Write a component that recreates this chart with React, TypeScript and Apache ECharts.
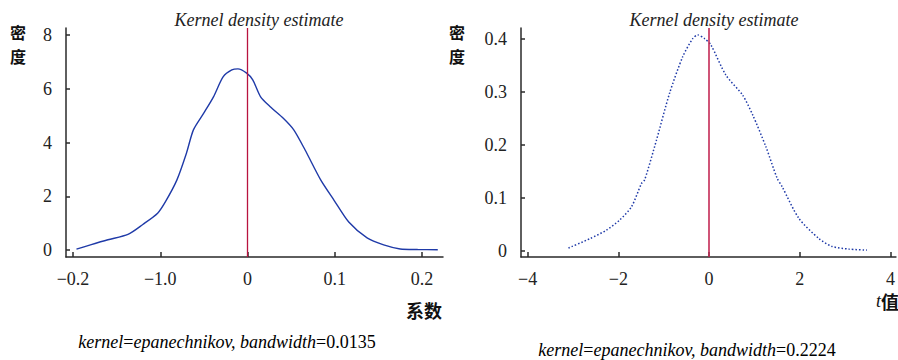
import React, { useEffect, useRef } from "react";
import * as echarts from "echarts";

// Left panel: coefficient density
const coefX = [-0.196, -0.18, -0.16, -0.137, -0.12, -0.103, -0.094, -0.081, -0.07, -0.062, -0.05, -0.039, -0.028, -0.018, -0.011, -0.001, 0.006, 0.015, 0.026, 0.041, 0.053, 0.066, 0.084, 0.099, 0.116, 0.137, 0.156, 0.175, 0.195, 0.218];
const coefY = [0.03, 0.19, 0.38, 0.58, 0.95, 1.37, 1.8, 2.6, 3.6, 4.47, 5.1, 5.7, 6.44, 6.7, 6.74, 6.58, 6.33, 5.7, 5.33, 4.9, 4.47, 3.72, 2.6, 1.86, 1.04, 0.45, 0.19, 0.04, 0.02, 0.01];
const coefTickValues = [-0.2, -0.1, 0, 0.1, 0.2];
const coefTickLabels = ["−0.2", "−1.0", "0", "0.1", "0.2"];
const coefYTicks = [0, 2, 4, 6, 8];

// Right panel: t-value density
const tX = [-3.1, -2.62, -2.26, -1.97, -1.71, -1.49, -1.42, -1.16, -0.87, -0.58, -0.36, -0.25, -0.1, 0.04, 0.37, 0.74, 0.96, 1.25, 1.5, 1.61, 1.98, 2.42, 2.71, 3.08, 3.48];
const tY = [0.005, 0.023, 0.039, 0.058, 0.083, 0.127, 0.134, 0.209, 0.298, 0.367, 0.401, 0.408, 0.401, 0.389, 0.332, 0.294, 0.257, 0.197, 0.137, 0.121, 0.061, 0.023, 0.008, 0.003, 0.001];
const tTickValues = [-4, -2, 0, 2, 4];
const tTickLabels = ["−4", "−2", "0", "2", "4"];
const tYTicks = [0, 0.1, 0.2, 0.3, 0.4];

const titleText = "Kernel density estimate";
const note1 = "0.0135";
const note2 = "0.2224";

const SERIF = "'Liberation Serif', 'Times New Roman', serif";
const CJK = "'Noto Sans CJK SC', sans-serif";
const AXIS_COLOR = "#2a2a2a";
const LINE_BLUE = "#1f3aa8";
const RED = "#b8133f";
const FS = 18;

function fmt(values: number[], labels: string[]) {
  return (v: number) => {
    for (let i = 0; i < values.length; i++) {
      if (Math.abs(values[i] - v) < 1e-9) return labels[i];
    }
    return "";
  };
}

export default function App() {
  const ref = useRef<HTMLDivElement>(null);
  useEffect(() => {
    const chart = echarts.init(ref.current!, null, { renderer: "svg" });
    const axisLine = { show: true, onZero: false, lineStyle: { color: AXIS_COLOR, width: 1.5 } };
    const labelStyle = { fontFamily: SERIF, fontSize: FS, color: "#222" };
    const tickStyle = { color: AXIS_COLOR, width: 1.5 };
    const noteRich = {
      i: { fontFamily: SERIF, fontSize: FS, fontStyle: "italic", color: "#111" },
      n: { fontFamily: SERIF, fontSize: FS, color: "#111" },
    };
    const titleStyle = { fontFamily: SERIF, fontSize: FS, fontStyle: "italic", fontWeight: "normal", color: "#222" };
    chart.setOption({
      animation: false,
      title: [
        { text: titleText, left: 254, top: 6, textAlign: "center", textStyle: titleStyle },
        { text: titleText, left: 709, top: 6, textAlign: "center", textStyle: titleStyle },
      ],
      grid: [
        { left: 66, top: 28, width: 377, height: 229 },
        { left: 521, top: 28, width: 377, height: 229 },
      ],
      xAxis: [
        {
          type: "value", gridIndex: 0, min: -0.208, max: 0.224,
          axisLine, splitLine: { show: false },
          axisTick: { show: true, inside: true, length: 5, customValues: coefTickValues, lineStyle: tickStyle },
          axisLabel: { ...labelStyle, margin: 13, customValues: coefTickValues, formatter: fmt(coefTickValues, coefTickLabels) },
        },
        {
          type: "value", gridIndex: 1, min: -4.147, max: 4.12,
          axisLine, splitLine: { show: false },
          axisTick: { show: true, inside: true, length: 5, customValues: tTickValues, lineStyle: tickStyle },
          axisLabel: { ...labelStyle, margin: 13, customValues: tTickValues, formatter: fmt(tTickValues, tTickLabels) },
        },
      ],
      yAxis: [
        {
          type: "value", gridIndex: 0, min: -0.26, max: 8.26,
          axisLine, splitLine: { show: false },
          axisTick: { show: true, inside: true, length: 4, customValues: coefYTicks, lineStyle: tickStyle },
          axisLabel: { ...labelStyle, margin: 14, customValues: coefYTicks, formatter: (v: number) => String(v) },
        },
        {
          type: "value", gridIndex: 1, min: -0.012, max: 0.421,
          axisLine, splitLine: { show: false },
          axisTick: { show: true, inside: true, length: 4, customValues: tYTicks, lineStyle: tickStyle },
          axisLabel: { ...labelStyle, margin: 14, customValues: tYTicks, formatter: (v: number) => (v === 0 ? "0" : v.toFixed(1)) },
        },
      ],
      series: [
        {
          type: "line", xAxisIndex: 0, yAxisIndex: 0, showSymbol: false, smooth: 0.25,
          data: coefX.map((x, i) => [x, coefY[i]]),
          lineStyle: { color: LINE_BLUE, width: 1.4 },
          markLine: {
            silent: true, symbol: "none", label: { show: false },
            lineStyle: { color: RED, width: 1.3, type: "solid" },
            data: [{ xAxis: 0 }],
          },
        },
        {
          type: "line", xAxisIndex: 1, yAxisIndex: 1, showSymbol: false, smooth: 0.25,
          data: tX.map((x, i) => [x, tY[i]]),
          lineStyle: { color: LINE_BLUE, width: 1.5, type: [1.5, 2] },
          markLine: {
            silent: true, symbol: "none", label: { show: false },
            lineStyle: { color: "#c42a55", width: 1.6, type: "solid" },
            data: [{ xAxis: 0 }],
          },
        },
      ],
      graphic: [
        { type: "text", left: 10, top: 24, style: { text: "密", font: `bold 16px ${CJK}`, fill: "#111" } },
        { type: "text", left: 10, top: 48, style: { text: "度", font: `bold 16px ${CJK}`, fill: "#111" } },
        { type: "text", left: 449, top: 24, style: { text: "密", font: `bold 16px ${CJK}`, fill: "#111" } },
        { type: "text", left: 449, top: 48, style: { text: "度", font: `bold 16px ${CJK}`, fill: "#111" } },
        { type: "text", left: 406, top: 301, style: { text: "系数", font: `bold 18px ${CJK}`, fill: "#111" } },
        {
          type: "text", left: 876, top: 292,
          style: {
            text: "{i|t}{c|值}",
            rich: {
              i: { fontFamily: SERIF, fontSize: FS, fontStyle: "italic", fill: "#111" },
              c: { fontFamily: CJK, fontSize: FS, fontWeight: "bold", fill: "#111" },
            },
          },
        },
        {
          type: "text", x: 227, y: 342,
          style: {
            text: `{i|kernel}{n|=}{i|epanechnikov, bandwidth}{n|=${note1}}`,
            rich: noteRich, align: "center", verticalAlign: "middle",
          },
        },
        {
          type: "text", x: 687, y: 350,
          style: {
            text: `{i|kernel}{n|=}{i|epanechnikov, bandwidth}{n|=${note2}}`,
            rich: noteRich, align: "center", verticalAlign: "middle",
          },
        },
      ],
    });
    return () => chart.dispose();
  }, []);
  return <div ref={ref} style={{ position: "absolute", left: 0, top: 0, width: 898, height: 360 }} />;
}
